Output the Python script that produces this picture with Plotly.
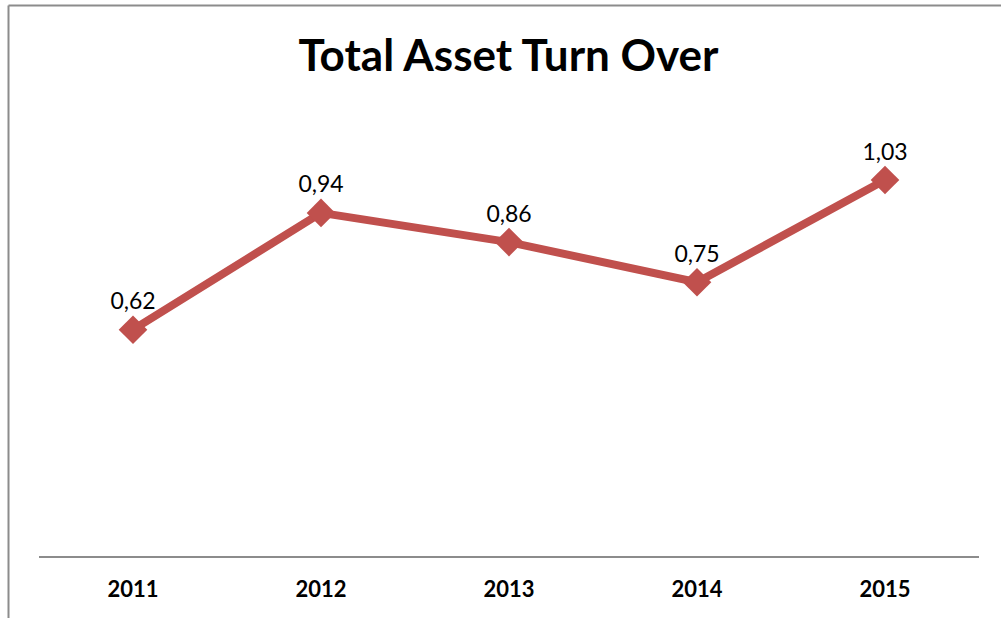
import plotly.graph_objects as go

years = ["2011", "2012", "2013", "2014", "2015"]
values = [0.62, 0.94, 0.86, 0.75, 1.03]
labels = [f"{v:.2f}".replace(".", ",") for v in values]

LINE_COLOR = "#C0504D"
FONT = "Lato, Carlito, Calibri, sans-serif"

fig = go.Figure()
fig.add_trace(go.Scatter(
    x=years, y=values, mode="lines+markers+text",
    line=dict(color=LINE_COLOR, width=8),
    marker=dict(symbol="diamond", size=22, color=LINE_COLOR),
    text=labels, textposition="top center",
    textfont=dict(family=FONT, size=23, color="#000000"),
    cliponaxis=False, hoverinfo="skip",
))

fig.update_layout(
    width=1001, height=618,
    margin=dict(l=39, r=22, t=118, b=62),
    paper_bgcolor="white", plot_bgcolor="white",
    showlegend=False,
    title=dict(text="<b>Total Asset Turn Over</b>", x=0.508, xanchor="center",
               y=1 - 56 / 618, yanchor="middle",
               font=dict(family=FONT, size=44, color="#000000")),
    xaxis=dict(type="category", range=[-0.5, 4.5], showgrid=False,
               showline=True, linecolor="#8c8c8c", linewidth=2,
               ticks="", ticklabelstandoff=13,
               tickfont=dict(family=FONT, size=22, color="#000000", weight="bold")),
    yaxis=dict(range=[0, 1.2], visible=False, showgrid=False, zeroline=False),
)

# outer chart frame (left and top edges visible)
fig.add_shape(type="line", xref="paper", yref="paper",
              x0=(8.5 - 39) / 940, x1=(1010 - 39) / 940,
              y0=(556 - 5.5) / 438, y1=(556 - 5.5) / 438,
              line=dict(color="#8c8c8c", width=2))
fig.add_shape(type="line", xref="paper", yref="paper",
              x0=(8.5 - 39) / 940, x1=(8.5 - 39) / 940,
              y0=(556 - 5.5) / 438, y1=(556 - 630) / 438,
              line=dict(color="#8c8c8c", width=2))

fig.write_html("out.html")
